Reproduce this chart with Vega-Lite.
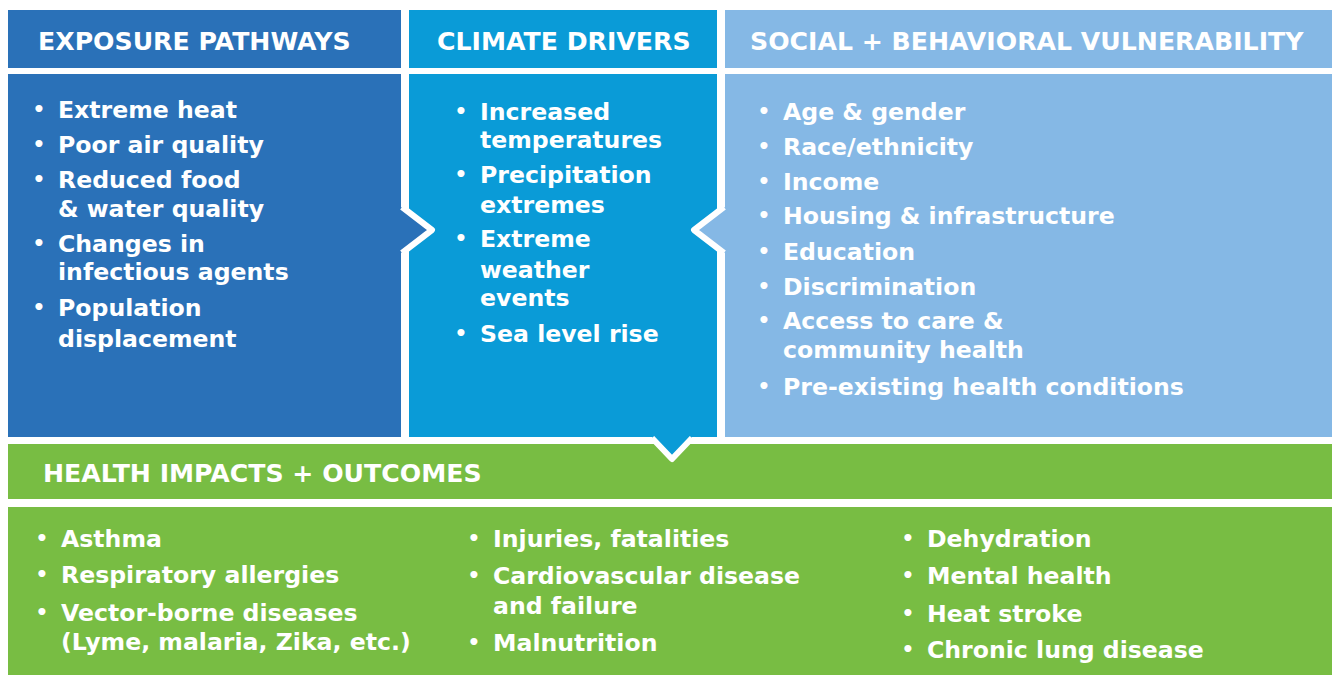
{
  "$schema": "https://vega.github.io/schema/vega-lite/v6.json",
  "width": 1332,
  "height": 677,
  "padding": 0,
  "autosize": {"type": "fit", "contains": "padding"},
  "background": "white",
  "config": {"view": {"stroke": null}},
  "datasets": {
    "boxes": [
      {"box": "exposure", "x": 8, "x2": 401, "y": 10, "y2": 68},
      {"box": "climate", "x": 409, "x2": 717, "y": 10, "y2": 68},
      {"box": "social", "x": 725, "x2": 1332, "y": 10, "y2": 68},
      {"box": "exposure", "x": 8, "x2": 401, "y": 74, "y2": 437},
      {"box": "climate", "x": 409, "x2": 717, "y": 74, "y2": 437},
      {"box": "social", "x": 725, "x2": 1332, "y": 74, "y2": 437},
      {"box": "health", "x": 8, "x2": 1332, "y": 444, "y2": 499},
      {"box": "health", "x": 8, "x2": 1332, "y": 507, "y2": 675}
    ],
    "arrows": [
      {"arrow": "a1", "box": "exposure", "x": 401, "y": 207, "y2": 253},
      {"arrow": "a1", "box": "exposure", "x": 432, "y": 230, "y2": 230},
      {"arrow": "a2", "box": "social", "x": 694, "y": 230, "y2": 230},
      {"arrow": "a2", "box": "social", "x": 725, "y": 207, "y2": 253},
      {"arrow": "a3", "box": "climate", "x": 652, "y": 437, "y2": 437},
      {"arrow": "a3", "box": "climate", "x": 672, "y": 437, "y2": 459},
      {"arrow": "a3", "box": "climate", "x": 692, "y": 437, "y2": 437}
    ],
    "outlines": [
      {"arrow": "a1", "i": 1, "x": 402, "y": 207},
      {"arrow": "a1", "i": 2, "x": 432, "y": 230},
      {"arrow": "a1", "i": 3, "x": 402, "y": 253},
      {"arrow": "a2", "i": 1, "x": 724, "y": 207},
      {"arrow": "a2", "i": 2, "x": 694, "y": 230},
      {"arrow": "a2", "i": 3, "x": 724, "y": 253},
      {"arrow": "a3", "i": 1, "x": 652, "y": 438},
      {"arrow": "a3", "i": 2, "x": 672, "y": 459},
      {"arrow": "a3", "i": 3, "x": 692, "y": 438}
    ],
    "texts": [
      {"kind": "header", "text": "EXPOSURE PATHWAYS", "x": 38, "y": 50, "bullet": false},
      {"kind": "header", "text": "CLIMATE DRIVERS", "x": 437, "y": 50, "bullet": false},
      {"kind": "header", "text": "SOCIAL + BEHAVIORAL VULNERABILITY", "x": 750, "y": 50, "bullet": false},
      {"kind": "header", "text": "HEALTH IMPACTS + OUTCOMES", "x": 43, "y": 482, "bullet": false},

      {"kind": "item", "text": "Extreme heat", "x": 58, "y": 118, "bullet": true},
      {"kind": "item", "text": "Poor air quality", "x": 58, "y": 153, "bullet": true},
      {"kind": "item", "text": "Reduced food", "x": 58, "y": 188, "bullet": true},
      {"kind": "item", "text": "& water quality", "x": 58, "y": 217, "bullet": false},
      {"kind": "item", "text": "Changes in", "x": 58, "y": 252, "bullet": true},
      {"kind": "item", "text": "infectious agents", "x": 58, "y": 280, "bullet": false},
      {"kind": "item", "text": "Population", "x": 58, "y": 316, "bullet": true},
      {"kind": "item", "text": "displacement", "x": 58, "y": 347, "bullet": false},

      {"kind": "item", "text": "Increased", "x": 480, "y": 120, "bullet": true},
      {"kind": "item", "text": "temperatures", "x": 480, "y": 148, "bullet": false},
      {"kind": "item", "text": "Precipitation", "x": 480, "y": 183, "bullet": true},
      {"kind": "item", "text": "extremes", "x": 480, "y": 213, "bullet": false},
      {"kind": "item", "text": "Extreme", "x": 480, "y": 247, "bullet": true},
      {"kind": "item", "text": "weather", "x": 480, "y": 278, "bullet": false},
      {"kind": "item", "text": "events", "x": 480, "y": 306, "bullet": false},
      {"kind": "item", "text": "Sea level rise", "x": 480, "y": 342, "bullet": true},

      {"kind": "item", "text": "Age & gender", "x": 783, "y": 120, "bullet": true},
      {"kind": "item", "text": "Race/ethnicity", "x": 783, "y": 155, "bullet": true},
      {"kind": "item", "text": "Income", "x": 783, "y": 190, "bullet": true},
      {"kind": "item", "text": "Housing & infrastructure", "x": 783, "y": 224, "bullet": true},
      {"kind": "item", "text": "Education", "x": 783, "y": 260, "bullet": true},
      {"kind": "item", "text": "Discrimination", "x": 783, "y": 295, "bullet": true},
      {"kind": "item", "text": "Access to care &", "x": 783, "y": 329, "bullet": true},
      {"kind": "item", "text": "community health", "x": 783, "y": 358, "bullet": false},
      {"kind": "item", "text": "Pre-existing health conditions", "x": 783, "y": 395, "bullet": true},

      {"kind": "item", "text": "Asthma", "x": 61, "y": 547, "bullet": true},
      {"kind": "item", "text": "Respiratory allergies", "x": 61, "y": 583, "bullet": true},
      {"kind": "item", "text": "Vector-borne diseases", "x": 61, "y": 621, "bullet": true},
      {"kind": "item", "text": "(Lyme, malaria, Zika, etc.)", "x": 61, "y": 650, "bullet": false},
      {"kind": "item", "text": "Injuries, fatalities", "x": 493, "y": 547, "bullet": true},
      {"kind": "item", "text": "Cardiovascular disease", "x": 493, "y": 584, "bullet": true},
      {"kind": "item", "text": "and failure", "x": 493, "y": 614, "bullet": false},
      {"kind": "item", "text": "Malnutrition", "x": 493, "y": 651, "bullet": true},
      {"kind": "item", "text": "Dehydration", "x": 927, "y": 547, "bullet": true},
      {"kind": "item", "text": "Mental health", "x": 927, "y": 584, "bullet": true},
      {"kind": "item", "text": "Heat stroke", "x": 927, "y": 622, "bullet": true},
      {"kind": "item", "text": "Chronic lung disease", "x": 927, "y": 658, "bullet": true}
    ]
  },
  "encoding": {
    "x": {"type": "quantitative", "scale": {"domain": [0, 1332], "nice": false, "zero": false}, "axis": null},
    "y": {"type": "quantitative", "scale": {"domain": [0, 677], "nice": false, "zero": false, "reverse": true}, "axis": null}
  },
  "layer": [
    {
      "data": {"name": "boxes"},
      "mark": {"type": "rect"},
      "encoding": {
        "x": {"field": "x", "type": "quantitative"},
        "x2": {"field": "x2"},
        "y": {"field": "y", "type": "quantitative"},
        "y2": {"field": "y2"},
        "color": {"field": "box", "type": "nominal", "legend": null,
          "scale": {"domain": ["exposure", "climate", "social", "health"], "range": ["#2A71B8", "#0A9BD7", "#85B8E5", "#78BD43"]}}
      }
    },
    {
      "data": {"name": "arrows"},
      "mark": {"type": "area", "opacity": 1, "interpolate": "linear"},
      "encoding": {
        "x": {"field": "x", "type": "quantitative"},
        "y": {"field": "y", "type": "quantitative"},
        "y2": {"field": "y2"},
        "detail": {"field": "arrow", "type": "nominal"},
        "color": {"field": "box", "type": "nominal", "legend": null,
          "scale": {"domain": ["exposure", "climate", "social", "health"], "range": ["#2A71B8", "#0A9BD7", "#85B8E5", "#78BD43"]}}
      }
    },
    {
      "data": {"name": "outlines"},
      "mark": {"type": "line", "color": "white", "strokeWidth": 6, "strokeJoin": "round", "strokeCap": "butt"},
      "encoding": {
        "x": {"field": "x", "type": "quantitative"},
        "y": {"field": "y", "type": "quantitative"},
        "detail": {"field": "arrow", "type": "nominal"},
        "order": {"field": "i", "type": "quantitative"}
      }
    },
    {
      "data": {"name": "texts"},
      "transform": [{"filter": "datum.kind === 'header'"}],
      "mark": {"type": "text", "align": "left", "baseline": "alphabetic", "color": "white", "font": "DejaVu Sans", "fontWeight": "bold", "fontSize": 25.2},
      "encoding": {
        "x": {"field": "x", "type": "quantitative"},
        "y": {"field": "y", "type": "quantitative"},
        "text": {"field": "text"}
      }
    },
    {
      "data": {"name": "texts"},
      "transform": [{"filter": "datum.kind === 'item'"}],
      "mark": {"type": "text", "align": "left", "baseline": "alphabetic", "color": "white", "font": "DejaVu Sans", "fontWeight": "bold", "fontSize": 23.6},
      "encoding": {
        "x": {"field": "x", "type": "quantitative"},
        "y": {"field": "y", "type": "quantitative"},
        "text": {"field": "text"}
      }
    },
    {
      "data": {"name": "texts"},
      "transform": [{"filter": "datum.bullet"}],
      "mark": {"type": "text", "align": "center", "baseline": "alphabetic", "color": "white", "font": "DejaVu Sans", "fontWeight": "bold", "fontSize": 20, "dx": -19, "dy": -2},
      "encoding": {
        "x": {"field": "x", "type": "quantitative"},
        "y": {"field": "y", "type": "quantitative"},
        "text": {"value": "•"}
      }
    }
  ]
}
